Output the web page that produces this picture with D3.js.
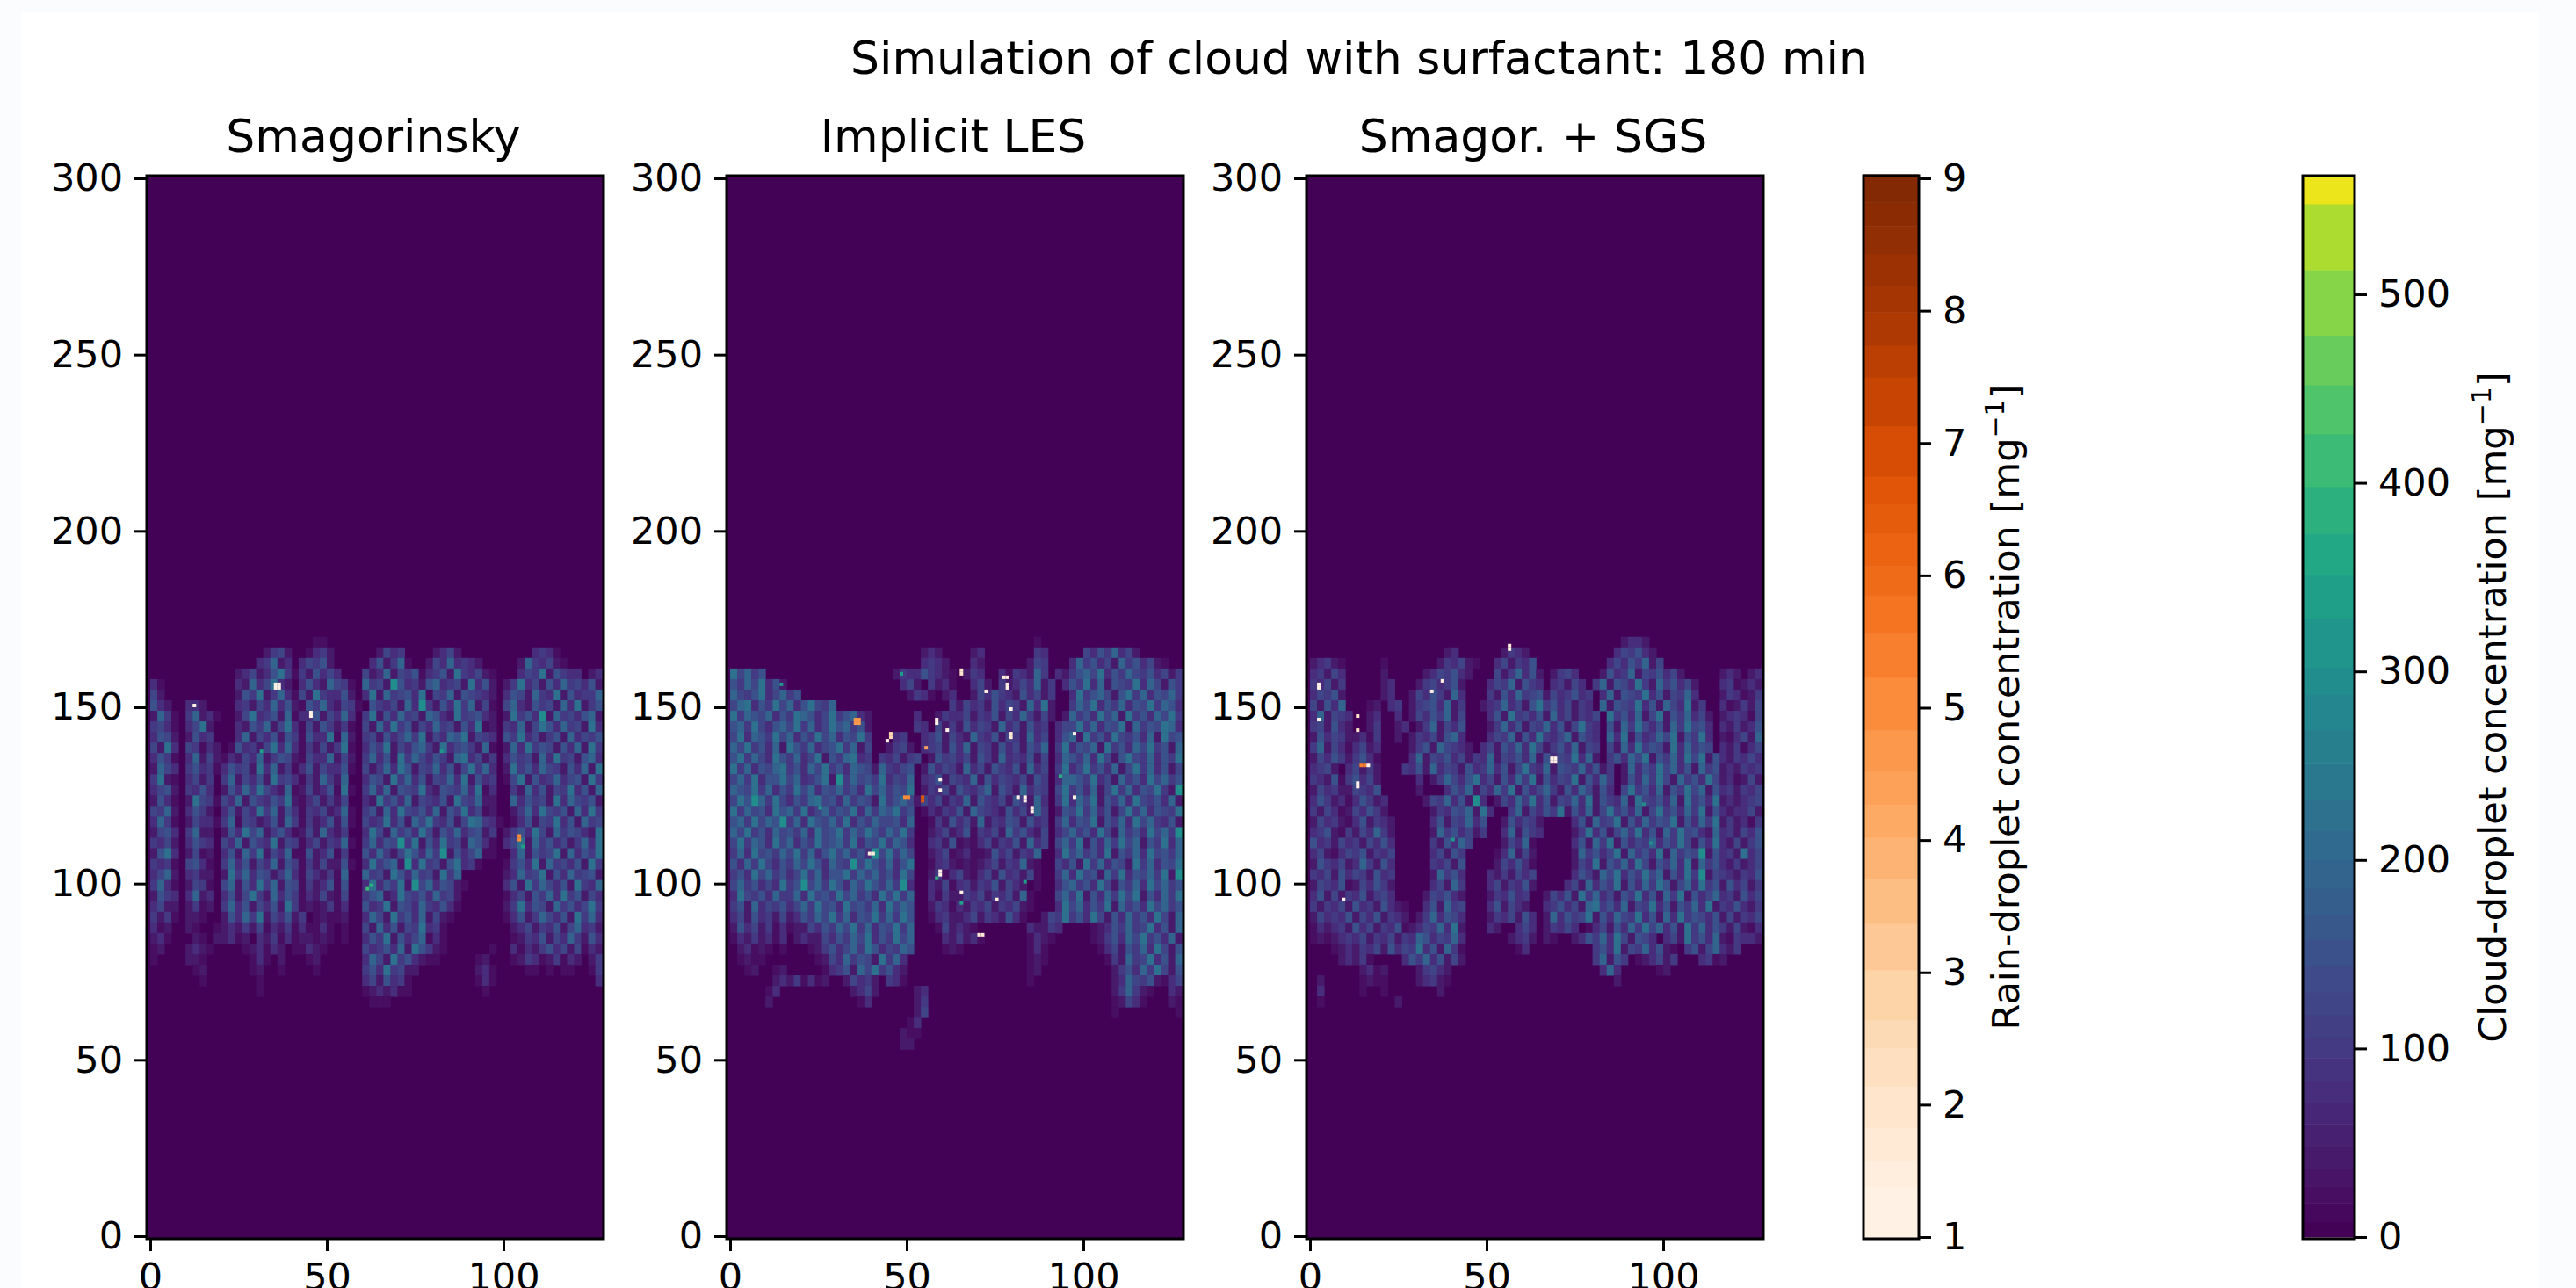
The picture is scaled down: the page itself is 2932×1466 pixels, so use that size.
<!DOCTYPE html>
<html>
<head>
<meta charset="utf-8">
<script src="https://cdn.jsdelivr.net/npm/d3@7"></script>
<style>
html, body { margin: 0; padding: 0; background: #fff; overflow: hidden; }
text { font-family: "DejaVu Sans", sans-serif; fill: #000; }
</style>
</head>
<body>
<script>
const figureTitle = 'Simulation of cloud with surfactant: 180 min'
const panelTitles = ['Smagorinsky', 'Implicit LES', 'Smagor. + SGS']
const xTicks = [0, 50, 100]
const yTicks = [0, 50, 100, 150, 200, 250, 300]
const rainTicks = [1, 2, 3, 4, 5, 6, 7, 8, 9]
const cloudTicks = [0, 100, 200, 300, 400, 500]

// contour levels, the spacing is not even
const rainLevels = [0.99, 1.38, 1.58, 1.83, 2.14, 2.43, 2.64, 3.02, 3.37, 3.71, 4.02, 4.27, 4.52, 4.83, 5.23, 5.56, 5.85, 6.07, 6.32, 6.54, 6.75, 7.13, 7.5, 7.74, 7.99, 8.19, 8.43, 8.64, 8.82, 9.03]
const cloudLevels = [0, 8, 18, 27, 36, 48, 60, 71, 83, 95, 106, 118, 130, 144, 158, 171, 185, 200, 216, 232, 251, 269, 288, 302, 328, 351, 373, 398, 426, 452, 478, 513, 548, 563]

// cloud field, one digit per block (2 x 3 grid units),
// digitValues turns a digit into droplets per mg. rows run downwards from height 170
const blockWidth = 2
const blockHeight = 3
const rowTop = 170
const digitValues = [0, 20, 45, 75, 100, 125, 150, 185, 230, 290]

const smagorinskyRows = [
  '00000000 00000000 00000001 10000000 00000000 00000000 00000000 00000000',
  '00000000 00000000 24520013 42000000 25340000 23520000 00000034 31000000',
  '00000000 00000003 47230354 62000003 62471002 53734320 00002743 52100000',
  '00000000 00002352 36841426 35300052 37254613 46284352 10003548 26433023',
  '31000000 00003273 58320363 27541074 52963426 73452836 20248352 63745362',
  '52000000 00002648 24731528 43362038 27456381 54726543 20365274 38263447',
  '63200332 00003425 37362164 73254106 43527394 26384725 10573264 52738246',
  '27410472 31002583 46271336 25373048 26374527 63284563 20284639 27453672',
  '45310358 20003264 72583152 64241052 73846253 74526381 20437258 63745283',
  '36520263 40003725 36264163 38172045 26357482 53768254 30648352 46273546',
  '52830541 32016342 58373142 52481036 48253674 28356427 10273846 52637284',
  '36410372 52132537 24652153 37252047 36284753 64278352 40364527 38452673',
  '27530463 41364528 37241362 53361052 47386254 73625847 30284637 54263728',
  '48210352 40472536 28453142 74270036 52847362 54738263 40158263 47356284',
  '35620436 30263748 53271252 36181047 37265483 26547381 30042736 25483627',
  '26310285 41537264 36482135 24250032 84637254 36285472 20073645 28375462',
  '54720364 20362538 47263143 52371046 27385463 72648351 20024738 54627384',
  '37410253 31471542 36274142 36261053 48362758 43625874 31013625 48362745',
  '25630472 20263857 24631252 73240038 52746385 26473562 40246385 27465328',
  '43520364 30537264 38254135 24371047 36594826 38452763 10358274 63524738',
  '26830251 20362748 25371162 36140063 74258637 49263571 10037264 58273648',
  '43410563 10473625 37264142 52261038 46729384 52683410 00146382 74536284',
  '35720342 20284736 52473153 24170074 52863745 28470000 00237458 26374562',
  '47310254 10572638 47265142 36160038 36482957 36521000 00362847 53628437',
  '26430372 30362584 27364132 52150046 72385463 74520000 00135264 73846253',
  '35220241 20473625 36284121 24130063 48265374 36310000 00248365 27463584',
  '42410221 00263748 25362401 21120037 52846372 52100000 00136247 53628473',
  '31200210 01232425 13241311 31010052 73625483 41000000 00023524 36257342',
  '23100021 02231203 24131221 21010036 48263571 31000000 00012436 25374263',
  '12000232 10000123 13201132 10000053 46372864 21000000 10031324 63525132',
  '10000221 00000013 10200012 00000037 52846321 10000012 00012431 24132024',
  '00000012 00000012 00100001 00000046 38452200 00000023 10000110 10110014',
  '00000001 00000001 00000000 00000035 26341000 00000013 10000000 00000003',
  '00000000 00000001 00000000 00000012 32311000 00000001 00000000 00000000',
  '00000000 00000000 00000000 00000001 11000000 00000000 00000000 00000000',
]

const implicitRows = [
  '00000000 00000000 00000000 00000000 00000000 00010000 00000000 00000000',
  '00000000 00000000 00000000 00023200 00230000 00043000 00536473 52000000',
  '00000000 00000000 00000000 00034320 00320000 00254000 37463527 46352100',
  '85746000 00000000 00000002 43364321 02430031 43274032 46758364 75463524',
  '64758362 00000000 00000000 35204231 00352042 35372403 64837265 48375264',
  '75468357 46000000 00000000 02431023 00253643 26352400 38467526 84736574',
  '57836485 73685470 00000000 00000004 25342635 42738200 47583647 36584763',
  '84765736 48763584 67320000 00300243 35243625 37425202 74638572 84637584',
  '67485367 58473586 74620000 00430524 26354273 52634035 58473658 27465873',
  '58376485 73648573 65840003 40034625 32743625 42735036 72846385 46372856',
  '75846372 86473568 47250024 52034526 37254263 52647048 36572846 37584627',
  '68475386 47358264 78340435 24502645 35264273 43625037 64738526 85473648',
  '84736578 46375846 37652743 56026354 27352643 62735048 35846372 58473625',
  '57483668 57346829 47564835 47034625 43726354 35264037 76483527 46385746',
  '76584736 48573657 46385746 58024352 64357264 27354058 46372584 73658429',
  '58697485 36478563 74652846 75253524 37264352 64273048 37582647 38546372',
  '84756386 74835746 58374768 46013243 62754326 35274026 58473625 84736548',
  '67485769 47386574 83647556 37001426 35272436 52634047 36582647 38574362',
  '75846375 64738568 47586475 84002352 36143527 46325035 74638527 46385749',
  '58476385 73648567 48365847 63003426 12135243 62735057 48263748 57264837',
  '47385647 58473685 74639584 75002351 23112635 24370038 57463826 47385647',
  '63748536 47586375 49586473 68001342 12123524 37210053 62847365 28473658',
  '46385746 35847366 84757463 85002413 52135263 42510047 38562748 36574829',
  '57463538 46957486 37586474 93003251 34243625 32010036 74638526 47385746',
  '38546374 47385648 57463858 47003142 24352435 27100057 48263748 58263748',
  '46273546 35748563 85647385 76002431 32435243 52100038 57364827 46385746',
  '35263425 23647584 73658474 86001342 23524326 31002548 46385263 74638527',
  '26352413 12253647 58473658 47000152 32100000 00322430 00012364 74583627',
  '13242313 02322536 47583648 57000032 42310000 00132100 00012463 75846372',
  '02312101 00012463 57486354 76000012 10000000 00131000 00001352 64738526',
  '01211000 00001253 74652847 30000000 00000000 00121000 00000142 74583627',
  '00120012 00000134 62758463 20000000 00000000 00120000 00000024 63748526',
  '00000023 24131200 25342043 10000000 00000000 00100000 00000023 75462135',
  '00000130 00000000 02352000 00230000 00000000 00000000 00000024 74210032',
  '00000200 00000000 00130000 00240000 00000000 00000000 00000012 53100021',
  '00000000 00000000 00000000 00250000 00000000 00000000 00000010 00000001',
  '00000000 00000000 00000000 01300000 00000000 00000000 00000000 00000000',
  '00000000 00000000 00000000 21100000 00000000 00000000 00000000 00000000',
  '00000000 00000000 00000000 22000000 00000000 00000000 00000000 00000000',
]

const sgsRows = [
  '00000000 00000000 00000000 00000000 00000000 00002332 00000000 00000000',
  '00000000 00000000 00023000 00024320 00000000 00035463 20000000 00000000',
  '23421000 00100000 00243521 00352436 00000000 00353647 25000000 00000000',
  '34253000 00200000 23546320 00524736 20245300 02634725 46352000 00232023',
  '43524000 00230002 45346200 03547264 30342530 47265384 27463520 00341232',
  '35462000 00230025 36427300 04263745 62534634 03726548 36254730 00243124',
  '52637000 12034024 56372400 23473526 84635243 07265483 62753824 00312425',
  '37254300 23003025 36472500 03628453 62735243 50846372 58264735 20234315',
  '45263200 24002302 47253600 02473625 47362584 30627485 36274856 30324236',
  '26354223 14002024 35267300 03547263 84357264 30738263 47582648 30213527',
  '47253135 23000024 62754320 35264738 52463725 40527384 65283746 50324135',
  '25364246 31000037 25463524 37254637 26354837 20463758 26473858 26324353',
  '34520352 42000436 27354263 47362584 37265473 62402736 48573627 46232434',
  '43261463 52000003 02475368 35263748 26354826 37402637 48527463 85231252',
  '25342254 36000002 00036472 53748263 57426375 26305846 37264857 26342435',
  '36423136 42300000 25473629 30253748 36254738 26437285 46372846 38232345',
  '42531253 64200000 02436572 83004725 36482637 25846372 58463748 26323352',
  '25342136 24320000 03625473 60026354 20000362 74582637 46582637 48242314',
  '34621425 37420000 02746352 40037264 30000248 36257483 62748563 27342536',
  '63425342 53630000 04263750 00025371 00000362 74826354 73648526 38325246',
  '35213546 24350000 03526400 00137252 00000274 63582746 38274659 26342835',
  '26435237 42630000 04352600 00253631 00000253 82647385 26473827 46324235',
  '43526354 26340000 02746300 03242535 00000364 27583648 57263849 25432436',
  '25436125 36420000 03527400 03524362 00003527 36482637 48625738 46263524',
  '36252436 24530000 25463200 02436340 02536284 73526483 62748263 57342635',
  '42435263 42632100 36274500 03625320 03463527 84637254 83626473 82436324',
  '25343625 36243202 47365300 02435263 02736458 26375483 62738465 36252435',
  '13234263 52436123 54738200 03200353 02435301 35263748 57362847 36425213',
  '12123435 24352437 63547300 00002342 02100236 47385265 30352846 37214332',
  '00012324 35263548 36274100 00000130 00000000 46382547 36210462 57324000',
  '00002324 10000364 73625200 00000000 00000000 47264012 35240003 41200000',
  '00000002 31200002 45320000 00000000 00000000 03730000 01200000 00000000',
  '02000001 21100002 34210000 00000000 00000000 00020000 00000000 00000000',
  '03000001 00100000 00200000 00000000 00000000 00000000 00000000 00000000',
  '01000000 00002000 00000000 00000000 00000000 00000000 00000000 00000000',
]

const cloudRows = [smagorinskyRows, implicitRows, sgsRows]

// strongest single cells of cloud water, [x, height, droplets per mg]
const cloudPeaks = [
  [[61, 98, 400], [62, 99, 380], [31, 137, 330], [105, 110, 330], [82, 137, 320]],
  [[48, 159, 340], [83, 100, 350], [93, 130, 390], [58, 101, 390], [65, 94, 340], [25, 121, 330], [14, 156, 320]],
  [[40, 112, 320], [94, 122, 300], [96, 111, 300]]
]

// isolated rain cells, [x, height, droplets per mg]
const rainCells = [
  [[35, 155, 1.05], [36, 155, 1.05], [35, 156, 1.05], [36, 156, 1.05], [12, 150, 1.1], [45, 147, 1.1], [45, 148, 1.1], [104, 112, 4.9], [104, 113, 4.9]],
  [[35, 145, 4.8], [36, 145, 4.8], [35, 146, 4.8], [36, 146, 4.8], [65, 159, 1.9], [65, 160, 1.9], [77, 158, 1.5], [78, 158, 1.5], [78, 155, 1.1], [78, 156, 1.1], [72, 154, 1.1], [79, 149, 1.2], [58, 145, 1.3], [58, 146, 1.3], [61, 143, 1.3], [79, 141, 1.6], [79, 142, 1.6], [45, 141, 2.6], [45, 142, 2.6], [44, 140, 1.05], [55, 138, 4.4], [59, 129, 1.3], [59, 126, 1.1], [49, 124, 5], [50, 124, 5], [54, 123, 6.6], [54, 124, 6.6], [81, 124, 1.1], [83, 123, 1.1], [83, 124, 1.1], [85, 120, 1.3], [85, 121, 1.3], [97, 142, 1.1], [97, 124, 1.3], [39, 108, 1.5], [40, 108, 1.5], [59, 102, 1.2], [59, 103, 1.2], [65, 97, 1.1], [75, 95, 1.5], [70, 85, 1.6], [71, 85, 1.6]],
  [[2, 155, 1.1], [2, 156, 1.1], [2, 146, 1.3], [13, 147, 2], [13, 143, 2], [14, 133, 5.4], [15, 133, 5.4], [16, 133, 1.2], [13, 127, 1.1], [13, 128, 1.1], [9, 95, 1.3], [37, 157, 1.5], [34, 154, 1.5], [56, 166, 1.5], [56, 167, 1.5], [68, 134, 1.02], [69, 134, 1.02], [68, 135, 1.02], [69, 135, 1.02]]
]

const layout = {
  panelLefts: [167, 827, 1487],
  panelWidth: 520,
  top: 200,
  bottom: 1410,
  rainBar: [2121, 2184],
  cloudBar: [2621, 2680],
  tickFont: 43,
  titleFont: 52,
  tickLength: 14,
  lineWidth: 3
}

const rainMin = rainLevels[0]
const rainMax = rainLevels[rainLevels.length - 1]

// each contour band takes the colormap colour near its middle, the top band gets the end colour
function cloudBandColors() {
  const max = cloudLevels[cloudLevels.length - 1]
  return d3.pairs(cloudLevels).map(([a, b], i) => {
    const t = i === cloudLevels.length - 2 ? 0.97 : 0.93 * (a + b) / 2 / max
    return d3.interpolateViridis(t)
  })
}

const cloudColors = cloudBandColors()
const rainColors = d3.pairs(rainLevels).map(([a, b]) => d3.interpolateOranges(((a + b) / 2 - rainMin) / (rainMax - rainMin)))
const cloudColor = d3.scaleThreshold().domain(cloudLevels.slice(1, -1)).range(cloudColors)
const rainColor = d3.scaleThreshold().domain(rainLevels.slice(1, -1)).range(rainColors)

const svg = d3.select('body').append('svg')
  .attr('width', 2932)
  .attr('height', 1466)
  .attr('viewBox', '0 0 2932 1466')
  .style('display', 'block')

// the picture sits on a slightly tinted page with a white figure on top
svg.append('rect').attr('width', 2932).attr('height', 1466).attr('fill', '#fbfcfe')
svg.append('rect').attr('x', 24).attr('y', 14).attr('width', 2866).attr('height', 1452).attr('fill', '#fff')

svg.append('text')
  .attr('x', 1547)
  .attr('y', 84)
  .attr('text-anchor', 'middle')
  .attr('font-size', layout.titleFont)
  .text(figureTitle)

function styleAxis(g) {
  g.select('.domain').remove()
  g.selectAll('.tick line').attr('stroke', '#000').attr('stroke-width', layout.lineWidth)
  g.selectAll('.tick text').attr('font-size', layout.tickFont).attr('font-family', '"DejaVu Sans", sans-serif')
}

function drawPanel(i) {
  const left = layout.panelLefts[i]
  const x = d3.scaleLinear().domain([-1, 128.35]).range([left, left + layout.panelWidth])
  const y = d3.scaleLinear().domain([-0.75, 300.75]).range([layout.bottom, layout.top])
  const g = svg.append('g')
  const cellW = x(1) - x(0)
  const cellH = y(0) - y(1)

  g.append('rect')
    .attr('x', left)
    .attr('y', layout.top)
    .attr('width', layout.panelWidth)
    .attr('height', layout.bottom - layout.top)
    .attr('fill', cloudColor(0))

  const blocks = []
  cloudRows[i].forEach((row, r) => {
    row.split(' ').join('').split('').forEach((digit, c) => {
      if (digit !== '0') {
        blocks.push({ x: c * blockWidth, top: rowTop - r * blockHeight, value: digitValues[+digit] })
      }
    })
  })

  g.selectAll('rect.block')
    .data(blocks)
    .enter()
    .append('rect')
    .attr('class', 'block')
    .attr('x', d => x(d.x))
    .attr('y', d => y(d.top))
    .attr('width', x(blockWidth) - x(0) + 0.5)
    .attr('height', y(0) - y(blockHeight) + 0.5)
    .attr('fill', d => cloudColor(d.value))

  g.selectAll('rect.peak')
    .data(cloudPeaks[i])
    .enter()
    .append('rect')
    .attr('class', 'peak')
    .attr('x', d => x(d[0]))
    .attr('y', d => y(d[1] + 1))
    .attr('width', cellW)
    .attr('height', cellH)
    .attr('fill', d => cloudColor(d[2]))

  g.selectAll('rect.rain')
    .data(rainCells[i])
    .enter()
    .append('rect')
    .attr('class', 'rain')
    .attr('x', d => x(d[0]))
    .attr('y', d => y(d[1] + 1))
    .attr('width', cellW)
    .attr('height', cellH)
    .attr('fill', d => rainColor(d[2]))

  g.append('rect')
    .attr('x', left)
    .attr('y', layout.top)
    .attr('width', layout.panelWidth)
    .attr('height', layout.bottom - layout.top)
    .attr('fill', 'none')
    .attr('stroke', '#000')
    .attr('stroke-width', layout.lineWidth)

  g.append('g')
    .attr('transform', `translate(0,${layout.bottom})`)
    .call(d3.axisBottom(x).tickValues(xTicks).tickSize(layout.tickLength).tickPadding(13))
    .call(styleAxis)

  g.append('g')
    .attr('transform', `translate(${left},0)`)
    .call(d3.axisLeft(y).tickValues(yTicks).tickSize(layout.tickLength).tickPadding(13))
    .call(styleAxis)

  g.append('text')
    .attr('x', left + layout.panelWidth / 2 - 2)
    .attr('y', 173)
    .attr('text-anchor', 'middle')
    .attr('font-size', layout.titleFont)
    .text(panelTitles[i])
}

function drawColorbar(bar, levels, colors, ticks, domain, rangeY, labelX, labelStart) {
  const y = d3.scaleLinear().domain(domain).range(rangeY)
  const g = svg.append('g')

  g.selectAll('rect')
    .data(d3.pairs(levels))
    .enter()
    .append('rect')
    .attr('x', bar[0])
    .attr('width', bar[1] - bar[0])
    .attr('y', d => y(d[1]))
    .attr('height', d => y(d[0]) - y(d[1]) + 0.5)
    .attr('fill', (d, i) => colors[i])

  g.append('rect')
    .attr('x', bar[0])
    .attr('y', layout.top)
    .attr('width', bar[1] - bar[0])
    .attr('height', layout.bottom - layout.top)
    .attr('fill', 'none')
    .attr('stroke', '#000')
    .attr('stroke-width', layout.lineWidth)

  g.append('g')
    .attr('transform', `translate(${bar[1]},0)`)
    .call(d3.axisRight(y).tickValues(ticks).tickSize(layout.tickLength).tickPadding(13))
    .call(styleAxis)

  const label = g.append('text')
    .attr('transform', `translate(${labelX},805) rotate(-90)`)
    .attr('text-anchor', 'middle')
    .attr('font-size', layout.tickFont)
  label.append('tspan').text(labelStart + ' [mg')
  label.append('tspan').attr('dy', -17).attr('font-size', 30).text('\u22121')
  label.append('tspan').attr('dy', 17).text(']')
}

panelTitles.forEach((t, i) => drawPanel(i))

drawColorbar(layout.rainBar, rainLevels, rainColors, rainTicks, [1, 9], [1408, 203], 2298, 'Rain-droplet concentration')
drawColorbar(layout.cloudBar, cloudLevels, cloudColors, cloudTicks, [0, 500], [1408, 335], 2852, 'Cloud-droplet concentration')
</script>
</body>
</html>
